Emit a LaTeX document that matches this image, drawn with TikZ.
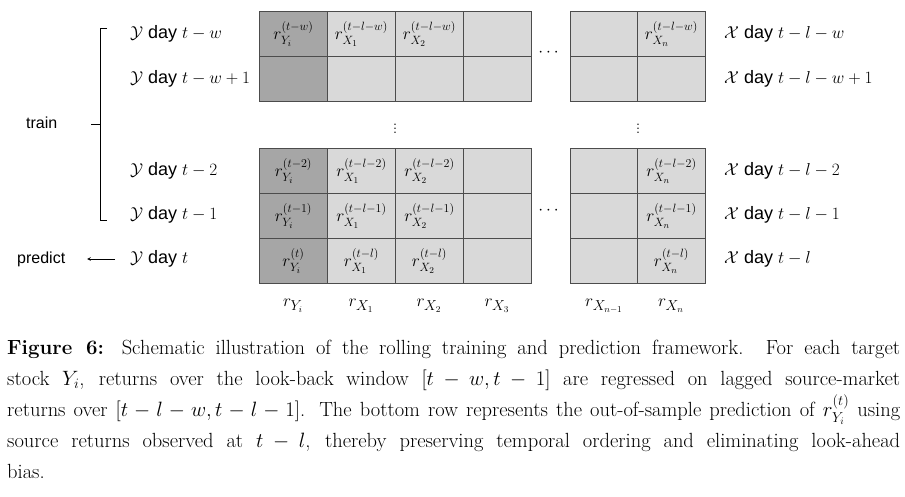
\documentclass[tikz,border=0pt]{standalone}
\usepackage{amsmath}
\usepackage{fontspec}
\newfontfamily\sansf{Liberation Sans}
\begin{document}
\begin{tikzpicture}[x=1pt,y=-1pt,
  cell/.style={draw=black!70,line width=0.9pt,minimum width=68pt,minimum height=45pt,inner sep=0pt,anchor=north west,font=\fontsize{18}{18}\selectfont},
  lt/.style={cell,fill=black!15},
  dk/.style={cell,fill=black!35},
  lab/.style={anchor=west,font=\fontsize{18}{18}\selectfont\sansf,inner sep=0pt},
  col/.style={font=\fontsize{19}{19}\selectfont,inner sep=0pt},
  dots/.style={inner sep=0pt,font=\fontsize{18}{18}\selectfont}]
\useasboundingbox (0,0) rectangle (905,497);
% top block
\node[dk] (a1) at (259,11) {$r^{(t-w)}_{Y_i}$};
\node[lt] (b1) at (327,11) {$r^{(t-l-w)}_{X_1}$};
\node[lt] (c1) at (395,11) {$r^{(t-l-w)}_{X_2}$};
\node[lt] (d1) at (463,11) {};
\node[lt] (e1) at (570,11) {};
\node[lt] (f1) at (637,11) {$r^{(t-l-w)}_{X_n}$};
\node[dk] (a2) at (259,56) {};
\node[lt] (b2) at (327,56) {};
\node[lt] (c2) at (395,56) {};
\node[lt] (d2) at (463,56) {};
\node[lt] (e2) at (570,56) {};
\node[lt] (f2) at (637,56) {};
% bottom block
\node[dk] (a3) at (259,148) {$r^{(t-2)}_{Y_i}$};
\node[lt] (b3) at (327,148) {$r^{(t-l-2)}_{X_1}$};
\node[lt] (c3) at (395,148) {$r^{(t-l-2)}_{X_2}$};
\node[lt] (d3) at (463,148) {};
\node[lt] (e3) at (570,148) {};
\node[lt] (f3) at (637,148) {$r^{(t-l-2)}_{X_n}$};
\node[dk] (a4) at (259,193) {$r^{(t-1)}_{Y_i}$};
\node[lt] (b4) at (327,193) {$r^{(t-l-1)}_{X_1}$};
\node[lt] (c4) at (395,193) {$r^{(t-l-1)}_{X_2}$};
\node[lt] (d4) at (463,193) {};
\node[lt] (e4) at (570,193) {};
\node[lt] (f4) at (637,193) {$r^{(t-l-1)}_{X_n}$};
\node[dk] (a5) at (259,238) {$r^{(t)}_{Y_i}$};
\node[lt] (b5) at (327,238) {$r^{(t-l)}_{X_1}$};
\node[lt] (c5) at (395,238) {$r^{(t-l)}_{X_2}$};
\node[lt] (d5) at (463,238) {};
\node[lt] (e5) at (570,238) {};
\node[lt] (f5) at (637,238) {$r^{(t-l)}_{X_n}$};
% dots
\node[dots] (h1) at (550,53) {$\cdots$};
\node[dots] (h2) at (550,211) {$\cdots$};
\node[dots] (v1) at (395,126) {$\vdots$};
\node[dots] (v2) at (638,126) {$\vdots$};
% left labels
\node[lab] (l1) at (130,34) {$\mathcal{Y}$ day $t-w$};
\node[lab] (l2) at (130,79) {$\mathcal{Y}$ day $t-w+1$};
\node[lab] (l3) at (130,171) {$\mathcal{Y}$ day $t-2$};
\node[lab] (l4) at (130,215) {$\mathcal{Y}$ day $t-1$};
\node[lab] (l5) at (130,259) {$\mathcal{Y}$ day $t$};
% right labels
\node[lab] (r1) at (724,34) {$\mathcal{X}$ day $t-l-w$};
\node[lab] (r2) at (724,79) {$\mathcal{X}$ day $t-l-w+1$};
\node[lab] (r3) at (724,171) {$\mathcal{X}$ day $t-l-2$};
\node[lab] (r4) at (724,215) {$\mathcal{X}$ day $t-l-1$};
\node[lab] (r5) at (724,259) {$\mathcal{X}$ day $t-l$};
% train / predict
\node[lab,font=\fontsize{16}{16}\selectfont\sansf] (train) at (26,123) {train};
\node[lab,font=\fontsize{16}{16}\selectfont\sansf] (pred) at (17,259) {predict};
\coordinate (bt) at (107,28);
\coordinate (bb) at (107,220);
\coordinate (bm) at (91,124);
\draw[line width=0.9pt] (bt) -- (100,28) -- (100,220) -- (bb);
\draw[line width=0.9pt] (bm) -- (100,124);
\coordinate (ps) at (115,259);
\coordinate (pe) at (87,259);
\draw[line width=0.7pt,-stealth] (ps) -- (pe);
% column labels
\node[col] (k1) at (293,306) {$r_{Y_i}$};
\node[col] (k2) at (361,306) {$r_{X_1}$};
\node[col] (k3) at (429,306) {$r_{X_2}$};
\node[col] (k4) at (497,306) {$r_{X_3}$};
\node[col] (k5) at (604,306) {$r_{X_{n-1}}$};
\node[col] (k6) at (671,306) {$r_{X_n}$};
% caption
\node[anchor=north west,inner sep=0pt,text width=893pt,align=justify,font=\fontsize{20.5}{31}\selectfont] (cap) at (7,340)
{\textbf{Figure 6:} Schematic illustration of the rolling training and prediction framework. For each target\linebreak
stock $Y_i$, returns over the look-back window $[t-w,t-1]$ are regressed on lagged source-market\linebreak
returns over $[t-l-w,t-l-1]$. The bottom row represents the out-of-sample prediction of $r^{(t)}_{Y_i}$ using\linebreak
source returns observed at $t-l$, thereby preserving temporal ordering and eliminating look-ahead\linebreak
bias.};
\end{tikzpicture}
\end{document}
